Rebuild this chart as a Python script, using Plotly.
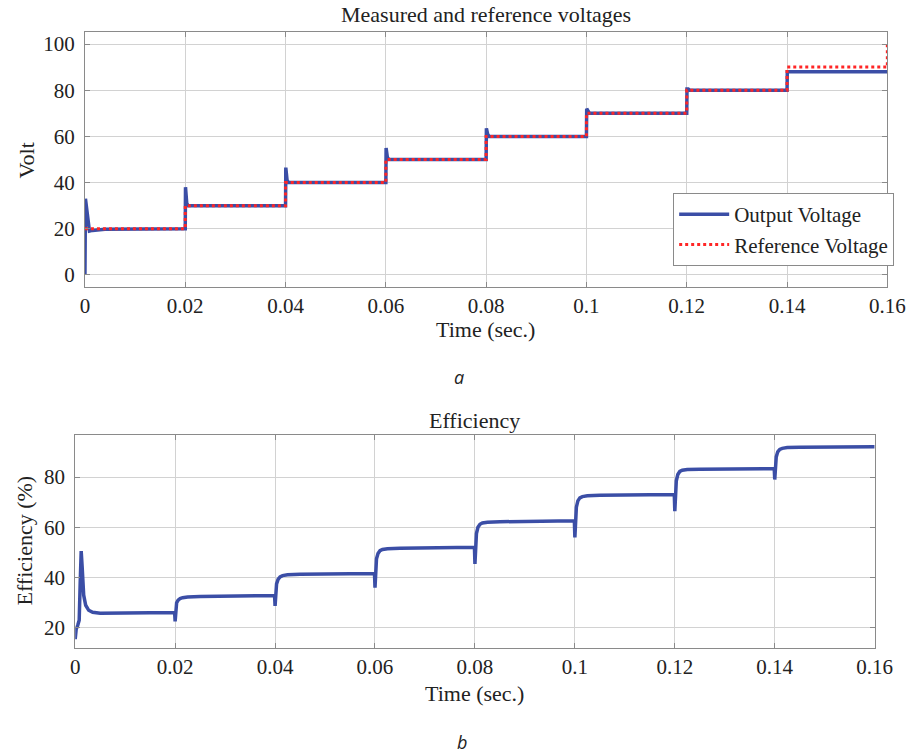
import plotly.graph_objects as go

# ---------------- data ----------------
# (a) Measured output voltage
t_out = [0, 0.0001, 0.0009, 0.0015, 0.004, 0.0199,
         0.02, 0.02005, 0.0203, 0.0206, 0.0399,
         0.04, 0.04005, 0.0403, 0.0406, 0.0599,
         0.06, 0.06005, 0.0603, 0.0606, 0.0799,
         0.08, 0.08005, 0.0803, 0.0806, 0.0999,
         0.10, 0.10005, 0.1003, 0.1006, 0.1199,
         0.12, 0.12005, 0.1203, 0.1206, 0.1399,
         0.14, 0.14005, 0.1403, 0.16]
v_out = [0, 33, 19, 19.3, 19.8, 20,
         20, 38, 31, 30, 30,
         30, 46.5, 41, 40, 40,
         40, 55, 51, 50, 50,
         50, 63.5, 61, 60, 60,
         60, 72, 71, 70, 70,
         70, 80.5, 80.5, 80, 80,
         80, 88, 88, 88]

# (a) Reference voltage (step-wise)
t_ref = [0, 0.02, 0.04, 0.06, 0.08, 0.10, 0.12, 0.14, 0.16]
v_ref = [20, 30, 40, 50, 60, 70, 80, 90, 100]

# (b) Efficiency
t_eff = [0, 0.0002, 0.0005, 0.0008, 0.0010, 0.0012, 0.0014, 0.0017, 0.0021, 0.0027, 0.0035, 0.005, 0.01, 0.0199,
         0.0200, 0.02015, 0.0203, 0.0206, 0.021, 0.0215, 0.0225, 0.025, 0.03, 0.0399,
         0.0400, 0.04015, 0.0403, 0.0406, 0.041, 0.0415, 0.0425, 0.045, 0.05, 0.0599,
         0.0600, 0.06015, 0.0603, 0.0606, 0.061, 0.0615, 0.0625, 0.065, 0.07, 0.0799,
         0.0800, 0.08015, 0.0803, 0.0806, 0.081, 0.0815, 0.0825, 0.085, 0.09, 0.0999,
         0.1000, 0.10015, 0.1003, 0.1006, 0.101, 0.1015, 0.1025, 0.105, 0.11, 0.1199,
         0.1200, 0.12015, 0.1203, 0.1206, 0.121, 0.1215, 0.1225, 0.125, 0.13, 0.1399,
         0.1400, 0.14015, 0.1403, 0.1406, 0.141, 0.1415, 0.1425, 0.145, 0.15, 0.16]
eff = [15.5, 19.5, 21, 23, 38, 50.5, 44, 33, 29, 27, 26.2, 25.8, 25.9, 26.1,
       22.6, 28, 30, 31, 31.7, 32, 32.3, 32.5, 32.7, 32.9,
       28.7, 35, 37.5, 39.3, 40.3, 40.8, 41.1, 41.3, 41.4, 41.6,
       36, 44.5, 47.5, 49.6, 50.7, 51.2, 51.5, 51.7, 51.9, 52.1,
       45.4, 54.5, 57.5, 60, 61.2, 61.7, 62, 62.2, 62.4, 62.6,
       56, 65, 68, 70.5, 71.7, 72.2, 72.5, 72.7, 72.9, 73,
       66.4, 75.5, 78.5, 81, 82.2, 82.7, 83, 83.1, 83.2, 83.3,
       79, 85.5, 88, 90, 91, 91.4, 91.7, 91.8, 91.9, 92]

x_ticks = [0, 0.02, 0.04, 0.06, 0.08, 0.1, 0.12, 0.14, 0.16]
x_ticklabels = ["0", "0.02", "0.04", "0.06", "0.08", "0.1", "0.12", "0.14", "0.16"]
y_ticks_a = [0, 20, 40, 60, 80, 100]
y_ticks_b = [20, 40, 60, 80]

# ---------------- styling ----------------
W, H = 919, 753
SERIF = "Liberation Serif"
FS = 22
TFS = 21
TXT = "#222222"
BLUE = "#3b4ea6"
RED = "#ff2626"
GRID = "#d2d2d2"
FRAME = "#8a8a8a"

def px_x(p):
    return p / W

def px_y(p):
    return 1 - p / H

fig = go.Figure()

fig.add_trace(go.Scatter(x=t_out, y=v_out, mode="lines", name="Output Voltage",
                         line=dict(color=BLUE, width=3.5), xaxis="x", yaxis="y"))
fig.add_trace(go.Scatter(x=t_ref, y=v_ref, mode="lines", name="Reference Voltage",
                         line=dict(color=RED, width=3, dash="3px,3px", shape="hv"),
                         xaxis="x", yaxis="y"))
fig.add_trace(go.Scatter(x=t_eff, y=eff, mode="lines", name="Efficiency", showlegend=False,
                         line=dict(color=BLUE, width=3.5), xaxis="x2", yaxis="y2"))

axis_common = dict(showgrid=True, gridcolor=GRID, gridwidth=1, zeroline=False,
                   showline=True, linecolor=FRAME, linewidth=1, mirror="ticks",
                   ticks="inside", ticklen=5, tickcolor=FRAME,
                   tickfont=dict(family=SERIF, size=TFS, color=TXT))

fig.update_layout(
    width=W, height=H,
    margin=dict(l=0, r=0, t=0, b=0),
    paper_bgcolor="white", plot_bgcolor="white",
    font=dict(family=SERIF, size=FS, color=TXT),
    showlegend=True,
    legend=dict(x=px_x(912), y=px_y(193), xanchor="right", yanchor="top",
                bgcolor="white", bordercolor=FRAME, borderwidth=1,
                font=dict(family=SERIF, size=21, color=TXT),
                itemwidth=50, tracegroupgap=0),
    xaxis=dict(domain=[px_x(82), px_x(905)], range=[0, 0.16], anchor="y",
               tickvals=x_ticks, ticktext=x_ticklabels, ticklabelstandoff=0, **axis_common),
    yaxis=dict(domain=[px_y(287), px_y(32)], range=[-5.2, 105.2], anchor="x",
               tickvals=y_ticks_a, ticklabelstandoff=5, **axis_common),
    xaxis2=dict(domain=[px_x(72), px_x(892)], range=[0, 0.16], anchor="y2",
                tickvals=x_ticks, ticktext=x_ticklabels, ticklabelstandoff=0, **axis_common),
    yaxis2=dict(domain=[px_y(648), px_y(435)], range=[12.0, 96.7], anchor="x2",
                tickvals=y_ticks_b, ticklabelstandoff=5, **axis_common),
)

def ann(text, xp, yp, size=FS, angle=0, family=SERIF, italic=False):
    t = f"<i>{text}</i>" if italic else text
    fig.add_annotation(text=t, x=px_x(xp), y=px_y(yp), xref="paper", yref="paper",
                       showarrow=False, xanchor="center", yanchor="middle", textangle=angle,
                       font=dict(family=family, size=size, color=TXT))

ann("Measured and reference voltages", 493, 15)
ann("Time (sec.)", 493, 329)
ann("Volt", 22, 160, angle=-90)
ann("a", 466, 377, size=18, family="Open Sans", italic=True)

ann("Efficiency", 482, 421)
ann("Time (sec.)", 482, 693)
ann("Efficiency (%)", 20, 540, angle=-90)
ann("b", 469, 742, size=18, family="Open Sans", italic=True)

fig.write_html("out.html")
